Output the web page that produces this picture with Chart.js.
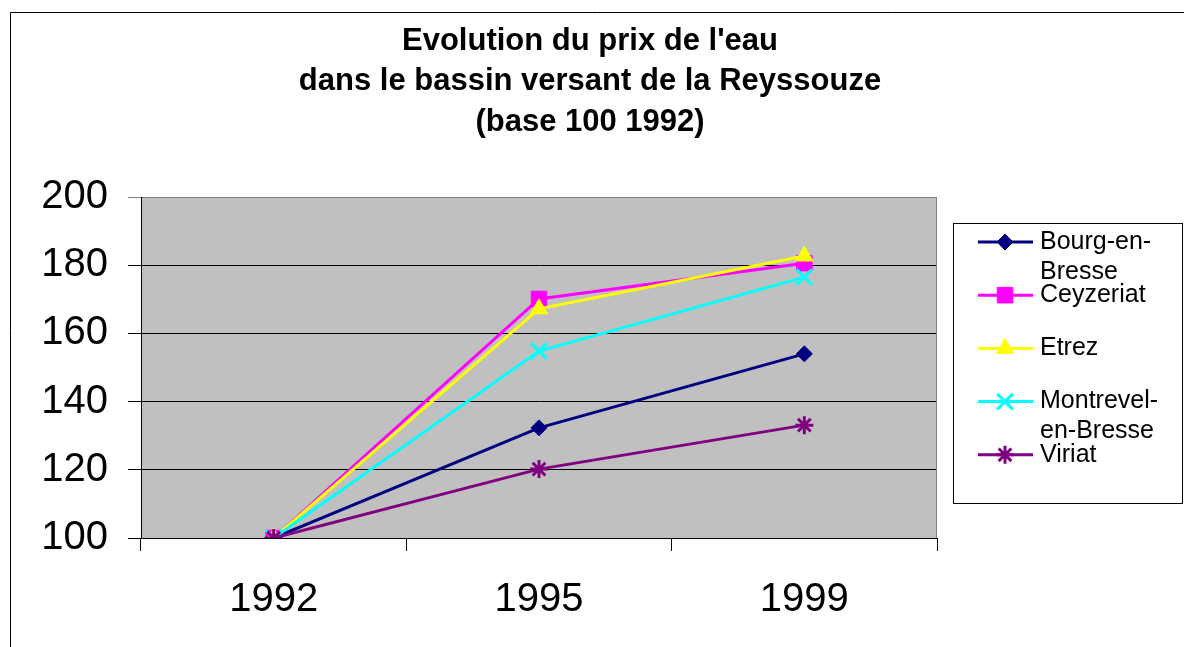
<!DOCTYPE html>
<html>
<head>
<meta charset="utf-8">
<script src="https://cdn.jsdelivr.net/npm/chart.js@4.4.1/dist/chart.umd.min.js"></script>
<style>
  html, body { margin: 0; padding: 0; background: #fff; }
  #wrap { width: 1184px; height: 647px; position: relative; }
</style>
</head>
<body>
<div id="wrap"><canvas id="prixEau"></canvas></div>
<script>
// données (base 100 en 1992)
const years = ['1992', '1995', '1999'];
const bourg = [100, 132.3, 154.0];
const ceyzeriat = [100, 170.1, 180.6];
const etrez = [100, 167.2, 182.7];
const montrevel = [100, 154.8, 176.5];
const viriat = [100, 120.2, 133.1];
const yTicks = [100, 120, 140, 160, 180, 200];
const titleLines = ['Evolution du prix de l\'eau', 'dans le bassin versant de la Reyssouze', '(base 100 1992)'];

const FONT = '"Liberation Sans", Arial, Helvetica, sans-serif';

function serie(label, data, color, style, radius, i) {
    return {
        label: label,
        data: data,
        borderColor: color,
        backgroundColor: color,
        borderWidth: 3,
        pointStyle: style,
        pointRadius: radius,
        pointHoverRadius: radius,
        pointBorderWidth: (style === 'crossRot' || style === 'star') ? 3 : 1,
        pointBorderColor: color,
        pointBackgroundColor: color,
        tension: 0,
        order: -i
    };
}

const datasets = [
    serie('Bourg-en-Bresse', bourg, '#000080', 'rectRot', 8, 0),
    serie('Ceyzeriat', ceyzeriat, '#FF00FF', 'rect', 11, 1),
    serie('Etrez', etrez, '#FFFF00', 'triangle', 10, 2),
    serie('Montrevel-en-Bresse', montrevel, '#00FFFF', 'crossRot', 11, 3),
    serie('Viriat', viriat, '#800080', 'star', 9, 4)
];

// fond gris, cadres, titre et légende
const decor = {
    id: 'decor',
    beforeDraw(chart) {
        const { ctx, chartArea: a } = chart;
        ctx.save();
        ctx.fillStyle = '#C0C0C0';
        ctx.fillRect(a.left, a.top, a.right - a.left, a.bottom - a.top);
        // cadre extérieur
        ctx.strokeStyle = '#000';
        ctx.lineWidth = 1;
        ctx.beginPath();
        ctx.moveTo(10.5, 700);
        ctx.lineTo(10.5, 12.5);
        ctx.lineTo(1200, 12.5);
        ctx.stroke();
        // titre
        ctx.fillStyle = '#000';
        ctx.font = 'bold 31px ' + FONT;
        ctx.textAlign = 'center';
        ctx.textBaseline = 'middle';
        titleLines.forEach((t, i) => ctx.fillText(t, 590, 41 + i * 40.5));
        ctx.restore();
    },
    beforeDatasetsDraw(chart) {
        const { ctx, chartArea: a } = chart;
        ctx.save();
        ctx.strokeStyle = '#808080';
        ctx.lineWidth = 1;
        ctx.beginPath();
        ctx.moveTo(a.right - 0.5, a.top);
        ctx.lineTo(a.right - 0.5, a.bottom);
        ctx.stroke();
        ctx.restore();
    },
    afterDraw(chart) {
        const ctx = chart.ctx;
        ctx.save();
        ctx.strokeStyle = '#000';
        ctx.lineWidth = 1;
        ctx.strokeRect(953.5, 223.5, 229, 280);
        ctx.font = '25px ' + FONT;
        ctx.textAlign = 'left';
        ctx.textBaseline = 'middle';
        chart.data.datasets.forEach((ds, i) => {
            const y = 242 + i * 53.2;
            ctx.strokeStyle = ds.borderColor;
            ctx.lineWidth = 3;
            ctx.beginPath();
            ctx.moveTo(978, y);
            ctx.lineTo(1033, y);
            ctx.stroke();
            ctx.fillStyle = ds.pointBackgroundColor;
            ctx.strokeStyle = ds.pointBorderColor;
            ctx.lineWidth = ds.pointBorderWidth;
            Chart.helpers.drawPoint(ctx, { pointStyle: ds.pointStyle, radius: ds.pointRadius, borderWidth: ds.pointBorderWidth, rotation: 0 }, 1005, y);
            // coupure des libellés longs après un tiret
            const parts = ds.label.split(/(?<=-)/);
            const lines = [];
            let cur = '';
            parts.forEach(p => {
                if (cur && ctx.measureText(cur + p).width > 138) {
                    lines.push(cur);
                    cur = p;
                } else {
                    cur += p;
                }
            });
            lines.push(cur);
            ctx.fillStyle = '#000';
            lines.forEach((l, k) => ctx.fillText(l, 1040, y + k * 30));
        });
        ctx.restore();
    }
};

new Chart(document.getElementById('prixEau'), {
    type: 'line',
    data: { labels: years, datasets: datasets },
    options: {
        responsive: true,
        maintainAspectRatio: false,
        animation: false,
        events: [],
        layout: { padding: { top: 197, right: 247, left: 0, bottom: 0 } },
        plugins: {
            legend: { display: false },
            title: { display: false },
            tooltip: { enabled: false }
        },
        scales: {
            x: {
                offset: true,
                grid: {
                    offset: true,
                    drawOnChartArea: false,
                    color: '#000',
                    tickLength: 13
                },
                border: { color: '#000', width: 1 },
                ticks: {
                    color: '#000',
                    font: { family: FONT, size: 40 },
                    padding: 25,
                    maxRotation: 0
                },
                afterFit(scale) { scale.height = 109; }
            },
            y: {
                min: 100,
                max: 200,
                afterBuildTicks(scale) { scale.ticks = yTicks.map(v => ({ value: v })); },
                grid: {
                    color: c => (c.tick && c.tick.value === 200) ? '#808080' : '#000',
                    tickLength: 13
                },
                border: { color: '#000', width: 1 },
                ticks: {
                    color: '#000',
                    font: { family: FONT, size: 40 },
                    padding: 20
                },
                afterFit(scale) { scale.width = 141; }
            }
        }
    },
    plugins: [decor]
});
</script>
</body>
</html>
